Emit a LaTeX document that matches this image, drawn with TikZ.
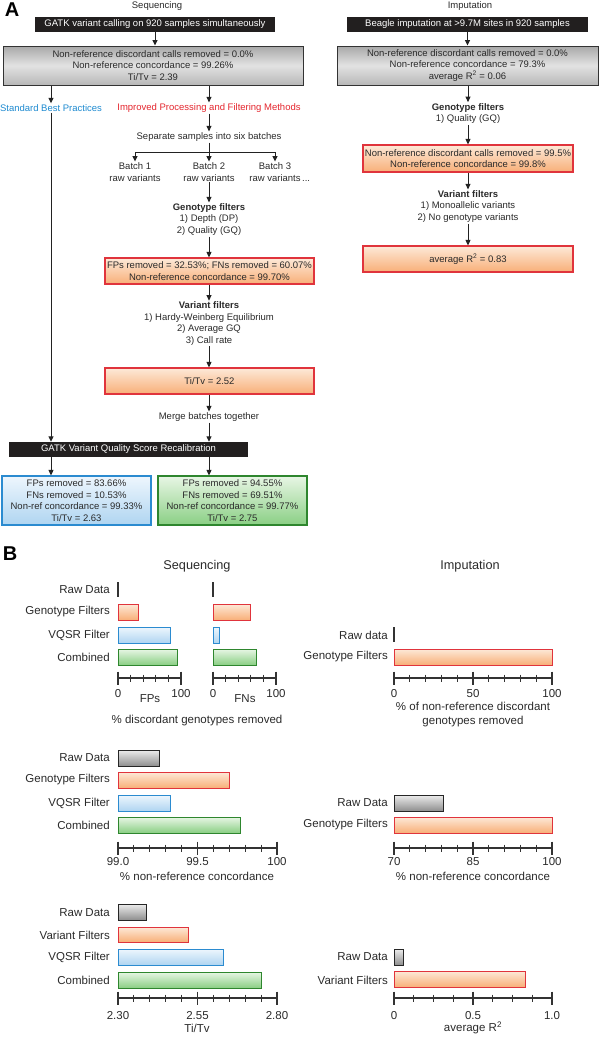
\documentclass[tikz,border=0pt]{standalone}
\usepackage{fontspec}
\setmainfont{Liberation Sans}
\usetikzlibrary{arrows.meta}
\definecolor{txt}{HTML}{2A2A2A}
\definecolor{arrcol}{HTML}{222222}
\definecolor{blackbox}{HTML}{221F1F}
\definecolor{gtop}{HTML}{A8A8A8}
\definecolor{gmid}{HTML}{E2E2E2}
\definecolor{gbot}{HTML}{B8B8B8}
\definecolor{orbord}{HTML}{E0343C}
\definecolor{ortop}{HTML}{FDE9D8}
\definecolor{orbot}{HTML}{F8AF78}
\definecolor{blbord}{HTML}{2B8BD0}
\definecolor{bltop}{HTML}{EEF6FD}
\definecolor{blbot}{HTML}{AFD5F1}
\definecolor{grbord}{HTML}{2E862E}
\definecolor{grtop}{HTML}{E8F6E5}
\definecolor{grbot}{HTML}{8ACF84}
\definecolor{bluetxt}{HTML}{1E8AD0}
\definecolor{redtxt}{HTML}{E4262E}
\definecolor{barg1}{HTML}{EDEDED}
\definecolor{barg2}{HTML}{8E8E8E}
\tikzset{
  tA/.style={text=txt,font=\fontsize{9.5}{11.5}\selectfont,align=center,inner sep=1pt},
  tB/.style={text=txt,font=\fontsize{11.5}{14}\selectfont,inner sep=0pt},
  tT/.style={text=txt,font=\fontsize{12.7}{15}\selectfont,inner sep=0pt},
  panel/.style={text=black,font=\fontsize{20}{20}\selectfont\bfseries,inner sep=0pt},
  blackbar/.style={tA,fill=blackbox,text=white,minimum height=15pt,inner sep=0pt},
  graybox/.style={tA,draw=black!80,line width=1pt,top color=gtop,bottom color=gbot,middle color=gmid,minimum height=39pt,inner sep=0pt},
  orbox/.style={tA,draw=orbord,line width=1.2pt,top color=ortop,bottom color=orbot,inner sep=0pt},
  blbox/.style={tA,draw=blbord,line width=1.2pt,top color=bltop,bottom color=blbot,inner sep=0pt},
  grbox/.style={tA,draw=grbord,line width=1.2pt,top color=grtop,bottom color=grbot,inner sep=0pt},
  arr/.style={draw=arrcol,line width=1pt,-{Triangle[length=5.5pt,width=5pt]}},
  ln/.style={draw=arrcol,line width=1pt},
  axisln/.style={draw=black!80,line width=1.1pt},
  orbar/.style={draw=orbord,line width=1pt,top color=ortop,bottom color=orbot},
  blbar/.style={draw=blbord,line width=1pt,top color=bltop,bottom color=blbot},
  grbar/.style={draw=grbord,line width=1pt,top color=grtop,bottom color=grbot},
  gybar/.style={draw=black!85,line width=1pt,top color=barg1,bottom color=barg2},
}
\newcommand\myhaxis[5]{%
  \draw[axisln] (#1,#3) -- (#2,#3);
  \foreach \i in {0,...,#4} \draw[axisln] ({#1+(#2-#1)*\i/#4},{#3-3.5}) -- ++(0,7);
  \foreach \i in {#5} \draw[axisln] ({#1+(#2-#1)*\i/#4},{#3-6.5}) -- ++(0,13);
}
\begin{document}
\begin{tikzpicture}[x=1pt,y=-1pt]
\useasboundingbox (0,0) rectangle (600,1037);
%% ---------------- Panel A ----------------
\node[panel] (pA) at (12,10) {A};
\node[tA] (seqT) at (157,6) {Sequencing};
\node[blackbar,minimum width=240pt] (gatk) at (155,24.5) {GATK variant calling on 920 samples simultaneously};
\node[graybox,minimum width=300pt] (raw) at (153,65.5) {Non-reference discordant calls removed = 0.0\%\\Non-reference concordance = 99.26\%\\Ti/Tv = 2.39};
\draw[arr] (gatk.south) -- (gatk.south |- raw.north);
\node[tA,text=bluetxt] (sbp) at (51,108) {Standard Best Practices};
\node[tA,text=redtxt] (ipf) at (209,108) {Improved Processing and Filtering Methods};
\draw[arr] (raw.south -| sbp) -- (sbp);
\draw[arr] (raw.south -| ipf) -- (ipf);
\node[tA] (sep) at (209,137) {Separate samples into six batches};
\draw[arr] (ipf) -- (sep);
\coordinate (split) at (209,152);
\node[tA] (b1) at (135,172) {Batch 1\\raw variants};
\node[tA] (b2) at (209,172) {Batch 2\\raw variants};
\node[tA] (b3) at (275,172) {Batch 3\\raw variants\rlap{\,...}};
\draw[ln] (sep) -- (split);
\draw[ln] (split -| b1) -- (split -| b3);
\draw[arr] (split -| b1) -- (b1);
\draw[arr] (split) -- (b2);
\draw[arr] (split -| b3) -- (b3);
\node[tA] (gf) at (209,219.5) {\textbf{Genotype filters}\\1) Depth (DP)\\2) Quality (GQ)};
\draw[arr] (b2) -- (gf);
\node[orbox,minimum width=209pt,minimum height=26pt] (or1) at (209.5,271) {FPs removed = 32.53\%; FNs removed = 60.07\%\\Non-reference concordance = 99.70\%};
\draw[arr] (gf) -- (gf |- or1.north);
\node[tA] (vf) at (209,323.5) {\textbf{Variant filters}\\1) Hardy-Weinberg Equilibrium\\2) Average GQ\\3) Call rate};
\draw[arr] (or1.south -| vf) -- (vf);
\node[orbox,minimum width=209pt,minimum height=26pt] (or2) at (209.5,381) {Ti/Tv = 2.52};
\draw[arr] (vf) -- (vf |- or2.north);
\node[tA] (merge) at (209,417) {Merge batches together};
\draw[arr] (or2.south -| merge) -- (merge);
\node[blackbar,minimum width=239pt] (vqsr) at (128.5,449.5) {GATK Variant Quality Score Recalibration};
\draw[arr] (merge) -- (merge |- vqsr.north);
\draw[arr] (sbp) -- (sbp |- vqsr.north);
\node[blbox,minimum width=149pt,minimum height=49pt] (bl) at (76.5,500.5) {FPs removed = 83.66\%\\FNs removed = 10.53\%\\Non-ref concordance = 99.33\%\\Ti/Tv = 2.63};
\node[grbox,minimum width=149pt,minimum height=49pt] (gr) at (232.5,500.5) {FPs removed = 94.55\%\\FNs removed = 69.51\%\\Non-ref concordance = 99.77\%\\Ti/Tv = 2.75};
\draw[arr] (vqsr.south -| sbp) -- (bl.north -| sbp);
\draw[arr] (vqsr.south -| merge) -- (gr.north -| merge);
% right column
\node[tA] (impT) at (470,6) {Imputation};
\node[blackbar,minimum width=241pt] (beagle) at (467.5,24.5) {Beagle imputation at >9.7M sites in 920 samples};
\node[graybox,minimum width=261pt] (raw2) at (467.5,65.5) {Non-reference discordant calls removed = 0.0\%\\Non-reference concordance = 79.3\%\\average R\textsuperscript{2} = 0.06};
\draw[arr] (beagle.south) -- (beagle.south |- raw2.north);
\node[tA] (gf2) at (468,113.5) {\textbf{Genotype filters}\\1) Quality (GQ)};
\draw[arr] (raw2.south -| gf2) -- (gf2);
\node[orbox,minimum width=210pt,minimum height=27pt] (or3) at (468,158.5) {Non-reference discordant calls removed = 99.5\%\\Non-reference concordance = 99.8\%};
\draw[arr] (gf2) -- (gf2 |- or3.north);
\node[tA] (vf2) at (468,206.5) {\textbf{Variant filters}\\1) Monoallelic variants\\2) No genotype variants};
\draw[arr] (or3.south -| vf2) -- (vf2);
\node[orbox,minimum width=210pt,minimum height=26pt] (or4) at (468,259) {average R\textsuperscript{2} = 0.83};
\draw[arr] (vf2) -- (vf2 |- or4.north);
%% ---------------- Panel B ----------------
\node[panel] (pB) at (10,554) {B};
\node[tT] (seqT2) at (197,566) {Sequencing};
\node[tT] (impT2) at (470,566) {Imputation};
% chart 1 sequencing
\node[tB,anchor=east] (c1l1) at (110,590) {Raw Data};
\node[tB,anchor=east] (c1l2) at (110,612) {Genotype Filters};
\node[tB,anchor=east] (c1l3) at (110,635) {VQSR Filter};
\node[tB,anchor=east] (c1l4) at (110,657) {Combined};
\draw[axisln] (118,582) -- (118,597);
\draw[axisln] (213,582) -- (213,597);
\draw[orbar] (118,604) rectangle (138.5,620);
\draw[blbar] (118,627) rectangle (170.7,643);
\draw[grbar] (118,649) rectangle (177.6,665);
\draw[orbar] (213,604) rectangle (250.8,620);
\draw[blbar] (213,627) rectangle (219.6,643);
\draw[grbar] (213,649) rectangle (256.8,665);
\myhaxis{118}{181}{678}{5}{0,5}
\myhaxis{213}{276}{678}{5}{0,5}
\node[tB] (c1t1) at (118,694) {0};
\node[tB] (c1t2) at (181,694) {100};
\node[tB] (c1t3) at (213,694) {0};
\node[tB] (c1t4) at (276,694) {100};
\node[tB] (c1fp) at (150,699) {FPs};
\node[tB] (c1fn) at (245,699) {FNs};
\node[tB] (c1x) at (197,721) {\% discordant genotypes removed};
% chart 1 imputation
\node[tB,anchor=east] (i1l1) at (388,635) {Raw data};
\node[tB,anchor=east] (i1l2) at (388,657) {Genotype Filters};
\draw[axisln] (394,627) -- (394,642);
\draw[orbar] (394,649) rectangle (552,665);
\myhaxis{394}{552}{678}{10}{0,5,10}
\node[tB] (i1t1) at (394,694) {0};
\node[tB] (i1t2) at (473,694) {50};
\node[tB] (i1t3) at (552,694) {100};
\node[tB,align=center] (i1x) at (473,715) {\% of non-reference discordant\\genotypes removed};
% chart 2 sequencing
\node[tB,anchor=east] (c2l1) at (110,758) {Raw Data};
\node[tB,anchor=east] (c2l2) at (110,780) {Genotype Filters};
\node[tB,anchor=east] (c2l3) at (110,803) {VQSR Filter};
\node[tB,anchor=east] (c2l4) at (110,825) {Combined};
\draw[gybar] (118,750) rectangle (159.3,766);
\draw[orbar] (118,772) rectangle (229.3,788);
\draw[blbar] (118,795) rectangle (170.5,811);
\draw[grbar] (118,817) rectangle (240.4,833);
\myhaxis{118}{277}{848}{10}{0,5,10}
\node[tB] (c2t1) at (118,862) {99.0};
\node[tB] (c2t2) at (197.5,862) {99.5};
\node[tB] (c2t3) at (277,862) {100};
\node[tB] (c2x) at (197,876) {\% non-reference concordance};
% chart 2 imputation
\node[tB,anchor=east] (i2l1) at (388,803) {Raw Data};
\node[tB,anchor=east] (i2l2) at (388,825) {Genotype Filters};
\draw[gybar] (394,795) rectangle (443,811);
\draw[orbar] (394,817) rectangle (552,833);
\myhaxis{394}{552}{848}{10}{0,5,10}
\node[tB] (i2t1) at (394,862) {70};
\node[tB] (i2t2) at (473,862) {85};
\node[tB] (i2t3) at (552,862) {100};
\node[tB] (i2x) at (473,876) {\% non-reference concordance};
% chart 3 sequencing
\node[tB,anchor=east] (c3l1) at (110,913) {Raw Data};
\node[tB,anchor=east] (c3l2) at (110,935) {Variant Filters};
\node[tB,anchor=east] (c3l3) at (110,957) {VQSR Filter};
\node[tB,anchor=east] (c3l4) at (110,980) {Combined};
\draw[gybar] (118,904) rectangle (146.6,920);
\draw[orbar] (118,927) rectangle (188,942);
\draw[blbar] (118,949) rectangle (223,965);
\draw[grbar] (118,972) rectangle (261,988);
\myhaxis{118}{277}{998}{10}{0,5,10}
\node[tB] (c3t1) at (118,1016) {2.30};
\node[tB] (c3t2) at (197.5,1016) {2.55};
\node[tB] (c3t3) at (277,1016) {2.80};
\node[tB] (c3x) at (197,1028) {Ti/Tv};
% chart 3 imputation
\node[tB,anchor=east] (i3l1) at (388,957) {Raw Data};
\node[tB,anchor=east] (i3l2) at (388,980) {Variant Filters};
\draw[gybar] (394,949) rectangle (403.5,965);
\draw[orbar] (394,971) rectangle (525,987);
\myhaxis{394}{552}{998}{8}{0,4,8}
\node[tB] (i3t1) at (394,1016) {0};
\node[tB] (i3t2) at (473,1016) {0.5};
\node[tB] (i3t3) at (552,1016) {1.0};
\node[tB] (i3x) at (473,1028) {average R\textsuperscript{2}};
\end{tikzpicture}
\end{document}
